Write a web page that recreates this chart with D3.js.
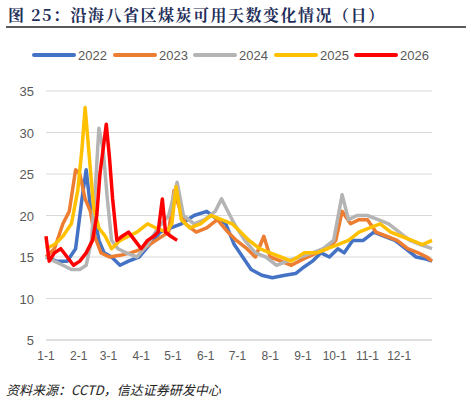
<!DOCTYPE html>
<html><head><meta charset="utf-8">
<script src="https://cdn.jsdelivr.net/npm/d3@7"></script>
<style>body{margin:0;background:#fff;font-family:Arial,"Liberation Sans",sans-serif}</style>
</head><body><svg id="c" width="471" height="404"></svg>
<script>
const monthTicks = ["1-1","2-1","3-1","4-1","5-1","6-1","7-1","8-1","9-1","10-1","11-1","12-1"];
const monthStart = [0,31,59,90,120,151,181,212,243,273,304,334];
const yTicks = [5,10,15,20,25,30,35];
const seriesNames = ["2022","2023","2024","2025","2026"];
const seriesColors = ["#4472c4","#ed7d31","#b4b4b4","#ffc000","#ff0000"];
// [day of year, days]
const s2022 = [[0,15],[10,14.5],[20,14.5],[28,16],[34,22],[38,25.5],[42,21],[46,20],[50,17],[55,15.5],[62,15],[70,14],[78,14.5],[88,15],[98,16.5],[108,18],[118,18.5],[128,19],[140,20],[152,20.5],[162,19.5],[170,19],[178,16.5],[186,15],[194,13.5],[204,12.8],[214,12.5],[226,12.8],[236,13],[244,13.8],[252,14.5],[260,15.5],[268,15],[276,16],[282,15.5],[290,17],[300,17],[310,18],[320,17.5],[330,17],[340,16],[350,15],[358,14.8],[365,14.5]];
const s2023 = [[0,15],[8,16],[16,19],[22,20.5],[28,25.5],[32,25],[37,22],[42,20.5],[46,17.5],[52,15.5],[60,15],[70,15.2],[80,15.5],[92,16],[104,17],[116,18],[121,23],[126,21],[132,19],[142,18],[152,18.5],[162,19.5],[172,18],[180,17],[190,16],[198,15],[206,17.5],[212,15],[222,14.5],[232,14],[244,14.8],[256,15.5],[266,16],[274,17],[280,20.5],[288,19],[296,19.5],[304,19.5],[312,18],[322,17.5],[332,17],[342,16],[352,15.5],[360,15],[365,14.5]];
const s2024 = [[0,15],[8,14.5],[16,14],[24,13.5],[32,13.5],[38,14],[43,17],[47,24],[50,30.5],[54,28],[58,22],[62,17],[68,16],[76,15.5],[86,15],[96,16.5],[106,18.5],[116,20],[124,24],[130,20],[140,19],[150,19.5],[160,20.5],[166,22],[170,21],[178,19],[188,17],[198,15.5],[208,15],[218,14],[228,14.5],[240,15],[252,15.5],[262,16],[272,17],[280,22.5],[286,19.5],[294,20],[304,20],[314,19.5],[324,19],[334,18],[344,17],[354,16.5],[365,16]];
const s2025 = [[0,16],[8,16.5],[16,17.5],[24,19],[30,23],[34,28],[37,33],[41,27],[45,21],[50,18.5],[56,17.5],[62,16],[70,17],[78,17.5],[86,18],[96,19],[104,18.5],[114,18],[119,19],[123,23.5],[128,19.5],[136,18.5],[146,19],[156,20],[166,19.5],[176,19],[184,18],[192,17],[202,16],[212,15.5],[222,15],[232,14.5],[244,15.5],[256,15.5],[266,16],[276,16.5],[286,17],[296,18],[306,18.5],[316,19],[326,18],[336,17.5],[346,17],[356,16.5],[365,17]];
const s2026 = [[0,17.5],[3,14.5],[8,15.5],[14,16],[20,15],[26,14],[32,14.5],[38,15.5],[44,17],[48,20],[51,25],[54,28],[57,31],[60,27],[63,22],[67,17],[72,17.5],[78,18],[84,17],[90,16],[96,17],[102,17.5],[106,18],[110,22],[113,18],[118,17.5],[124,17]];
const allSeries = [s2022,s2023,s2024,s2025,s2026];

const svg = d3.select("#c");
const x = d3.scaleLinear().domain([0,365]).range([46,432]);
const y = d3.scaleLinear().domain([5,35]).range([340,91]);

// title
svg.append("text").attr("x",8).attr("y",21)
  .style("font-family","'Noto Serif CJK SC','Noto Sans CJK SC',serif").style("font-weight","bold")
  .style("font-size","16px").style("letter-spacing","1.5px").attr("fill","#1f2f5a").text("图 25：沿海八省区煤炭可用天数变化情况（日）");
svg.append("line").attr("x1",6).attr("x2",466).attr("y1",27).attr("y2",27).attr("stroke","#222").attr("stroke-width",1.3);

// gridlines
svg.append("g").selectAll("line").data(yTicks.filter(d => d > 5)).join("line")
  .attr("x1",46).attr("x2",432).attr("y1",d => y(d)).attr("y2",d => y(d))
  .attr("stroke","#d9d9d9").attr("stroke-width",1);
svg.append("line").attr("x1",46).attr("x2",432).attr("y1",y(5)).attr("y2",y(5)).attr("stroke","#bfbfbf");

svg.append("g").selectAll("text").data(yTicks).join("text")
  .attr("x",34).attr("y",d => y(d)+5).attr("text-anchor","end")
  .attr("font-size","13px").attr("fill","#595959").text(d => d);

svg.append("g").selectAll("text").data(monthTicks).join("text")
  .attr("x",(d,i) => x(monthStart[i])).attr("y",360).attr("text-anchor","middle")
  .attr("font-size","12px").attr("fill","#595959").text(d => d);

const line = d3.line().x(d => x(d[0])).y(d => y(d[1])).curve(d3.curveLinear);
allSeries.forEach((s,i) => {
  svg.append("path").datum(s).attr("d",line).attr("fill","none")
    .attr("stroke",seriesColors[i]).attr("stroke-width",3.5).attr("stroke-linejoin","round");
});

// legend
const lx = [34,115,195,276,356];
seriesNames.forEach((n,i) => {
  svg.append("line").attr("x1",lx[i]).attr("x2",lx[i]+40).attr("y1",55).attr("y2",55)
    .attr("stroke",seriesColors[i]).attr("stroke-width",4).attr("stroke-linecap","round");
  svg.append("text").attr("x",lx[i]+44).attr("y",60).attr("font-size","13px").attr("fill","#595959").text(n);
});

svg.append("text").attr("x",6).attr("y",395).style("font-style","italic")
  .style("font-family","'Noto Sans CJK SC',sans-serif").attr("font-size","13px").attr("fill","#222")
  .text("资料来源：CCTD，信达证券研发中心");
</script></body></html>
